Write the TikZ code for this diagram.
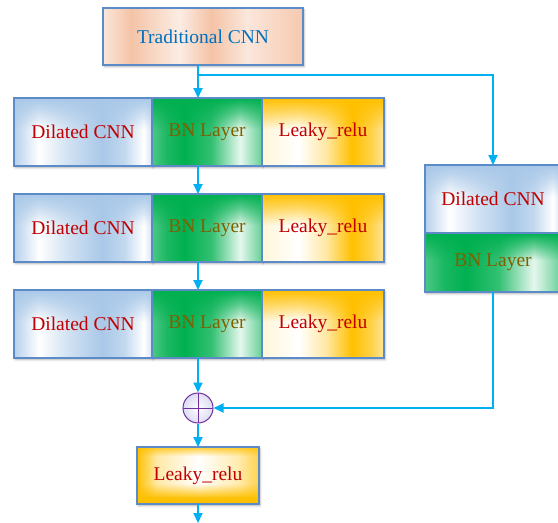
\documentclass[tikz,border=0pt]{standalone}
\usepackage{fontspec}
\setmainfont{Liberation Serif}
\usetikzlibrary{arrows.meta,shadows.blur,fadings}

\definecolor{flowc}{HTML}{00B0F0}
\definecolor{edgec}{HTML}{5B8CC8}
\definecolor{txtred}{HTML}{C00000}
\definecolor{txtblue}{HTML}{0070C0}
\definecolor{txtbrown}{HTML}{7F6000}
\definecolor{gold}{HTML}{FFC000}
\definecolor{bngreen}{HTML}{00B050}
\definecolor{dblue}{HTML}{A9C8E8}
\definecolor{peach}{HTML}{F4C3A6}
\definecolor{ringpurple}{HTML}{7030A0}
\definecolor{ringfill}{HTML}{DCDCF2}

% horizontal fills of the cells (the path is mapped onto 25bp..75bp)
\pgfdeclarehorizontalshading{dilatedshade}{100bp}{%
  color(0bp)=(dblue!85!white); color(25bp)=(dblue!85!white);
  color(34bp)=(white); color(45bp)=(dblue!55!white);
  color(57bp)=(dblue); color(65bp)=(dblue!70!white);
  color(72bp)=(white); color(75bp)=(dblue!50!white);
  color(100bp)=(dblue!50!white)}
\pgfdeclarehorizontalshading{bnshade}{100bp}{%
  color(0bp)=(bngreen!70!white); color(25bp)=(bngreen!70!white);
  color(32bp)=(bngreen!90!white); color(40bp)=(bngreen);
  color(52bp)=(bngreen!80!white); color(65bp)=(bngreen!10!white);
  color(75bp)=(bngreen!60!white); color(100bp)=(bngreen!60!white)}
\pgfdeclarehorizontalshading{leakyshade}{100bp}{%
  color(0bp)=(gold!15!white); color(25bp)=(gold!15!white);
  color(40bp)=(white); color(51bp)=(gold!35!white);
  color(62bp)=(gold); color(70bp)=(gold!70!white);
  color(75bp)=(gold!40!white); color(100bp)=(gold!40!white)}
\pgfdeclarehorizontalshading{tradshade}{100bp}{%
  color(0bp)=(peach!40!white); color(25bp)=(peach!40!white);
  color(32bp)=(peach); color(44bp)=(peach!30!white);
  color(52bp)=(peach); color(61bp)=(peach!40!white);
  color(75bp)=(peach!90!white); color(100bp)=(peach!90!white)}
\pgfdeclarehorizontalshading{outshade}{100bp}{%
  color(0bp)=(gold); color(25bp)=(gold);
  color(33bp)=(gold!35!white); color(50bp)=(white);
  color(66bp)=(gold!30!white); color(75bp)=(gold!70!white);
  color(100bp)=(gold!70!white)}

% vertical glows laid over the whole cell (white = opaque, black = clear;
% the cell is mapped onto 25bp..75bp)
\pgfdeclareverticalshading{topglowshade}{100bp}{%
  color(0bp)=(black); color(52bp)=(black); color(65bp)=(white!60!black);
  color(75bp)=(white); color(100bp)=(white)}
\pgfdeclarefading{topglow}{\pgfuseshading{topglowshade}}
\pgfdeclareverticalshading{bothglowshade}{100bp}{%
  color(0bp)=(white); color(30bp)=(white); color(43bp)=(black);
  color(67bp)=(black); color(75bp)=(white!80!black);
  color(100bp)=(white!80!black)}
\pgfdeclarefading{bothglow}{\pgfuseshading{bothglowshade}}

\tikzset{
  box/.style={draw=edgec, line width=1.1pt, inner sep=0pt, outer sep=0pt,
    font=\fontsize{19.5}{22}\selectfont,
    blur shadow={shadow xshift=1.2pt, shadow yshift=-1.8pt,
      shadow blur radius=2pt, shadow opacity=30}},
  glow/.style 2 args={path picture={
    \fill[#1, path fading=#2] (path picture bounding box.north west)
      rectangle (path picture bounding box.south east);}},
  dilated/.style={box, shading=dilatedshade, text=txtred, glow={dblue}{topglow}},
  bnbox/.style={box, shading=bnshade, text=txtbrown, glow={bngreen}{topglow}},
  leaky/.style={box, shading=leakyshade, text=txtred, glow={gold}{topglow}},
  trad/.style={box, shading=tradshade, text=txtblue},
  outbox/.style={box, shading=outshade, text=txtred, glow={gold}{bothglow}},
  sumnode/.style={circle, draw=ringpurple, line width=1pt, minimum size=30pt,
    inner sep=0pt, inner color=white, outer color=ringfill,
    path picture={
      \draw[ringpurple, line width=0.8pt] (path picture bounding box.north) -- (path picture bounding box.south);
      \draw[ringpurple, line width=0.8pt] (path picture bounding box.west) -- (path picture bounding box.east);}},
  flow/.style={draw=flowc, line width=1.8pt, -{Triangle[width=9pt,length=10pt]}},
}

\begin{document}
\begin{tikzpicture}[x=1pt, y=-1pt]
\useasboundingbox (0,0) rectangle (558,523);

% input block
\node[trad, minimum width=200pt, minimum height=57pt, anchor=north west]
  (trad) at (103,8) {Traditional CNN};

% three stacked dilated blocks
\foreach \r/\top in {1/98, 2/194, 3/290} {
  \node[dilated, minimum width=138pt, minimum height=68pt, anchor=north west]
    (d\r) at (14,\top) {Dilated CNN};
  \node[bnbox, minimum width=110pt, minimum height=68pt, anchor=north west]
    (b\r) at (152,\top) {BN Layer};
  \node[leaky, minimum width=122pt, minimum height=68pt, anchor=north west]
    (l\r) at (262,\top) {Leaky\_relu};
}

% shortcut branch
\node[dilated, minimum width=136pt, minimum height=68pt, anchor=north west]
  (rd) at (425,165) {Dilated CNN};
\node[bnbox, minimum width=136pt, minimum height=59pt, anchor=north west]
  (rb) at (425,233) {BN Layer};

% sum and output activation
\node[sumnode] (sum) at (198,408) {};
\node[outbox, minimum width=122pt, minimum height=57pt, anchor=north west]
  (out) at (137,447) {Leaky\_relu};

\coordinate (spine) at (198,0);
\coordinate (split) at (198,75);
\coordinate (end) at (198,523);

% connectors
\draw[flow] (trad.south -| spine) -- (b1.north -| spine);
\draw[flow] (split) -| (rd.north);
\draw[flow] (b1.south -| spine) -- (b2.north -| spine);
\draw[flow] (b2.south -| spine) -- (b3.north -| spine);
\draw[flow] (b3.south -| spine) -- (sum.north);
\draw[flow] (rb.south) |- (sum.east);
\draw[flow] (sum.south) -- (out.north);
\draw[flow] (out.south) -- (end);
\end{tikzpicture}
\end{document}
